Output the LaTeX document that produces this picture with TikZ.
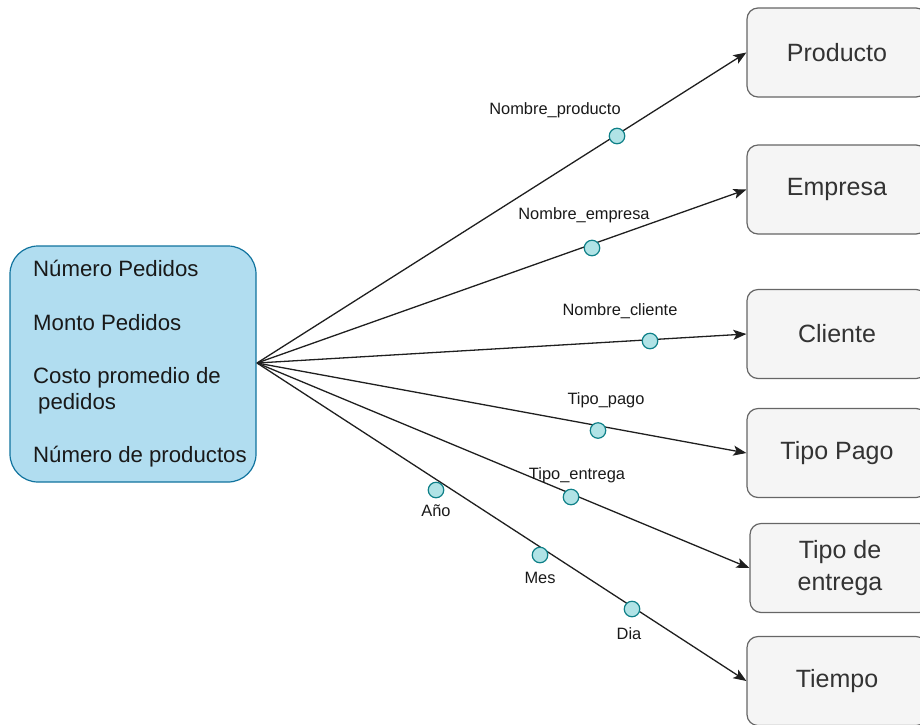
\documentclass[tikz,border=0pt]{standalone}
\usepackage{fontspec}
\setmainfont{Liberation Sans}
\usetikzlibrary{arrows.meta}

\definecolor{factfill}{HTML}{B1DDF0}
\definecolor{factline}{HTML}{10739E}
\definecolor{dimfill}{HTML}{F5F5F5}
\definecolor{dimline}{HTML}{666666}
\definecolor{dimtext}{HTML}{333333}
\definecolor{attrfill}{HTML}{B0E3E6}
\definecolor{attrline}{HTML}{0E8088}

\begin{document}
\begin{tikzpicture}[x=1pt, y=-1pt,
  dimbox/.style={draw=dimline, fill=dimfill, line width=1.2pt, rounded corners=11pt,
    minimum width=180pt, minimum height=89pt, inner sep=0pt, align=center,
    text=dimtext, font=\fontsize{25}{31.5}\selectfont},
  factbox/.style={draw=factline, fill=factfill, line width=1.2pt, rounded corners=28pt,
    minimum width=246pt, minimum height=236pt, inner sep=0pt},
  measure/.style={anchor=base west, inner sep=0pt, text=black!90,
    font=\fontsize{22.2}{26}\selectfont},
  link/.style={-{Stealth[length=13pt, width=10pt, inset=3pt]}, line width=1.3pt, draw=black!88},
  attr/.style={circle, draw=attrline, fill=attrfill, line width=1.2pt,
    minimum size=15.5pt, inner sep=0pt},
  attrlbl/.style={inner sep=0pt, text=black!90, font=\fontsize{16.4}{19}\selectfont}
]
\path[use as bounding box, clip] (0,0) rectangle (920,724);

% fact table with its measures
\node[factbox] (fact) at (133,364) {};
\node[measure] (m1) at (33,276) {Número Pedidos};
\node[measure] (m2) at (33,330) {Monto Pedidos};
\node[measure] (m3) at (33,383) {Costo promedio de};
\node[measure] (m4) at (38,409) {pedidos};
\node[measure] (m5) at (33,462) {Número de productos};
\coordinate (hub) at (257,363);

% dimension tables
\node[dimbox] (producto) at (837,52.5) {Producto};
\node[dimbox] (empresa)  at (837,189.5) {Empresa};
\node[dimbox] (cliente)  at (837,334) {Cliente};
\node[dimbox] (pago)     at (837,453) {Tipo Pago};
\node[dimbox] (entrega)  at (840,568) {Tipo de\\entrega};
\node[dimbox] (tiempo)   at (837,681) {Tiempo};

% connectors from the fact table to each dimension
\draw[link] (hub) -- (producto.west);
\draw[link] (hub) -- (empresa.west);
\draw[link] (hub) -- (cliente.west);
\draw[link] (hub) -- (pago.west);
\draw[link] (hub) -- (entrega.west);
\draw[link] (hub) -- (tiempo.west);

% attributes on the connectors
\node[attr] (a1) at (617,136) {};
\node[attrlbl] (l1) at (555,110) {Nombre\_producto};
\node[attr] (a2) at (592,248) {};
\node[attrlbl] (l2) at (584,215) {Nombre\_empresa};
\node[attr] (a3) at (650,341) {};
\node[attrlbl] (l3) at (620,311) {Nombre\_cliente};
\node[attr] (a4) at (598,430.5) {};
\node[attrlbl] (l4) at (606,400) {Tipo\_pago};
\node[attr] (a5) at (571,497) {};
\node[attrlbl] (l5) at (577,475) {Tipo\_entrega};
\node[attr] (a6) at (436,490) {};
\node[attrlbl] (l6) at (436,511) {Año};
\node[attr] (a7) at (540,555) {};
\node[attrlbl] (l7) at (540,578) {Mes};
\node[attr] (a8) at (632,609) {};
\node[attrlbl] (l8) at (629,634) {Dia};
\end{tikzpicture}
\end{document}
